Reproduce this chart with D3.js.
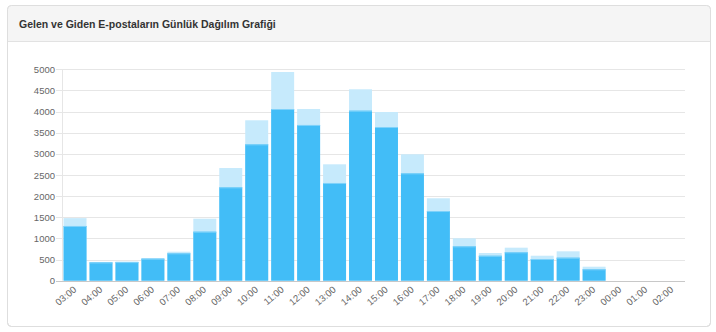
<!DOCTYPE html>
<html>
<head>
<meta charset="utf-8">
<script src="https://cdn.jsdelivr.net/npm/d3@7"></script>
<style>
  html, body { margin: 0; padding: 0; background: #fff; }
  body { width: 716px; height: 332px; overflow: hidden; font-family: "Liberation Sans", Arial, sans-serif; }
</style>
</head>
<body>
<div id="chart"></div>
<script>
// saat etiketleri
const hours = ["03:00", "04:00", "05:00", "06:00", "07:00", "08:00", "09:00", "10:00",
  "11:00", "12:00", "13:00", "14:00", "15:00", "16:00", "17:00", "18:00", "19:00",
  "20:00", "21:00", "22:00", "23:00", "00:00", "01:00", "02:00"];

// açık mavi (arkadaki) seri
const lightValues = [1480, 445, 455, 535, 686, 1466, 2665, 3794, 4936, 4061, 2753, 4527,
  3990, 2990, 1949, 1003, 655, 781, 591, 695, 331, 0, 0, 0];

// koyu mavi (öndeki) seri
const darkValues = [1294, 432, 440, 520, 648, 1159, 2209, 3226, 4061, 3683, 2311, 4021,
  3635, 2540, 1648, 813, 590, 672, 513, 544, 270, 0, 0, 0];

const yTicks = [0, 500, 1000, 1500, 2000, 2500, 3000, 3500, 4000, 4500, 5000];

const width = 716, height = 332;
const margin = { top: 69.3, right: 31, bottom: 51.3, left: 62 };

const svg = d3.select("#chart").append("svg")
  .attr("width", width)
  .attr("height", height);

// panel
svg.append("rect")
  .attr("x", 7.5).attr("y", 5.5)
  .attr("width", 703).attr("height", 321)
  .attr("rx", 4).attr("fill", "#fff").attr("stroke", "#dedede");

svg.append("path")
  .attr("d", "M7.5,41 L7.5,9.5 Q7.5,5.5 11.5,5.5 L706.5,5.5 Q710.5,5.5 710.5,9.5 L710.5,41 Z")
  .attr("fill", "#f5f5f5");
svg.append("line")
  .attr("x1", 7.5).attr("x2", 710.5).attr("y1", 41.5).attr("y2", 41.5)
  .attr("stroke", "#e2e2e2");
svg.append("rect")
  .attr("x", 7.5).attr("y", 5.5)
  .attr("width", 703).attr("height", 321)
  .attr("rx", 4).attr("fill", "none").attr("stroke", "#dedede");

svg.append("text")
  .attr("x", 19).attr("y", 27.5)
  .attr("font-size", "10.5px")
  .attr("font-weight", "bold")
  .attr("fill", "#333")
  .text("Gelen ve Giden E-postaların Günlük Dağılım Grafiği");

const x = d3.scaleBand()
  .domain(hours)
  .range([margin.left, width - margin.right])
  .paddingInner(0.115)
  .paddingOuter(0.06);

const y = d3.scaleLinear()
  .domain([0, 5000])
  .range([height - margin.bottom, margin.top]);

// grid
svg.append("g")
  .selectAll("line")
  .data(yTicks)
  .join("line")
  .attr("x1", margin.left - 6)
  .attr("x2", width - margin.right)
  .attr("y1", d => Math.round(y(d)) + 0.5)
  .attr("y2", d => Math.round(y(d)) + 0.5)
  .attr("stroke", d => d === 0 ? "#c8c8c8" : "#e6e6e6");

svg.append("line")
  .attr("x1", margin.left + 0.5).attr("x2", margin.left + 0.5)
  .attr("y1", y(5000)).attr("y2", y(0))
  .attr("stroke", "#e6e6e6");

// bars
svg.append("g")
  .selectAll("rect")
  .data(hours.map((h, i) => ({ h, v: lightValues[i] })))
  .join("rect")
  .attr("x", d => x(d.h))
  .attr("y", d => y(d.v))
  .attr("width", x.bandwidth())
  .attr("height", d => y(0) - y(d.v))
  .attr("fill", "#c6eafc");

svg.append("g")
  .selectAll("rect")
  .data(hours.map((h, i) => ({ h, v: darkValues[i] })))
  .join("rect")
  .attr("x", d => x(d.h))
  .attr("y", d => y(d.v))
  .attr("width", x.bandwidth())
  .attr("height", d => y(0) - y(d.v))
  .attr("fill", "#42bdf7");

svg.append("g")
  .selectAll("line")
  .data(hours.map((h, i) => ({ h, v: darkValues[i] })).filter(d => d.v > 0))
  .join("line")
  .attr("x1", d => x(d.h))
  .attr("x2", d => x(d.h) + x.bandwidth())
  .attr("y1", d => y(d.v) + 0.5)
  .attr("y2", d => y(d.v) + 0.5)
  .attr("stroke", "#7fd2fa");

// y axis labels
svg.append("g")
  .selectAll("text")
  .data(yTicks)
  .join("text")
  .attr("x", margin.left - 7)
  .attr("y", d => y(d) + 3.5)
  .attr("text-anchor", "end")
  .attr("font-size", "9.5px")
  .attr("fill", "#666")
  .text(d => d);

// x axis labels
svg.append("g")
  .selectAll("text")
  .data(hours)
  .join("text")
  .attr("text-anchor", "end")
  .attr("font-size", "9.5px")
  .attr("fill", "#666")
  .attr("transform", d => `translate(${x(d) + x.bandwidth() / 2 + 2},${y(0) + 10}) rotate(-40)`)
  .text(d => d);
</script>
</body>
</html>
